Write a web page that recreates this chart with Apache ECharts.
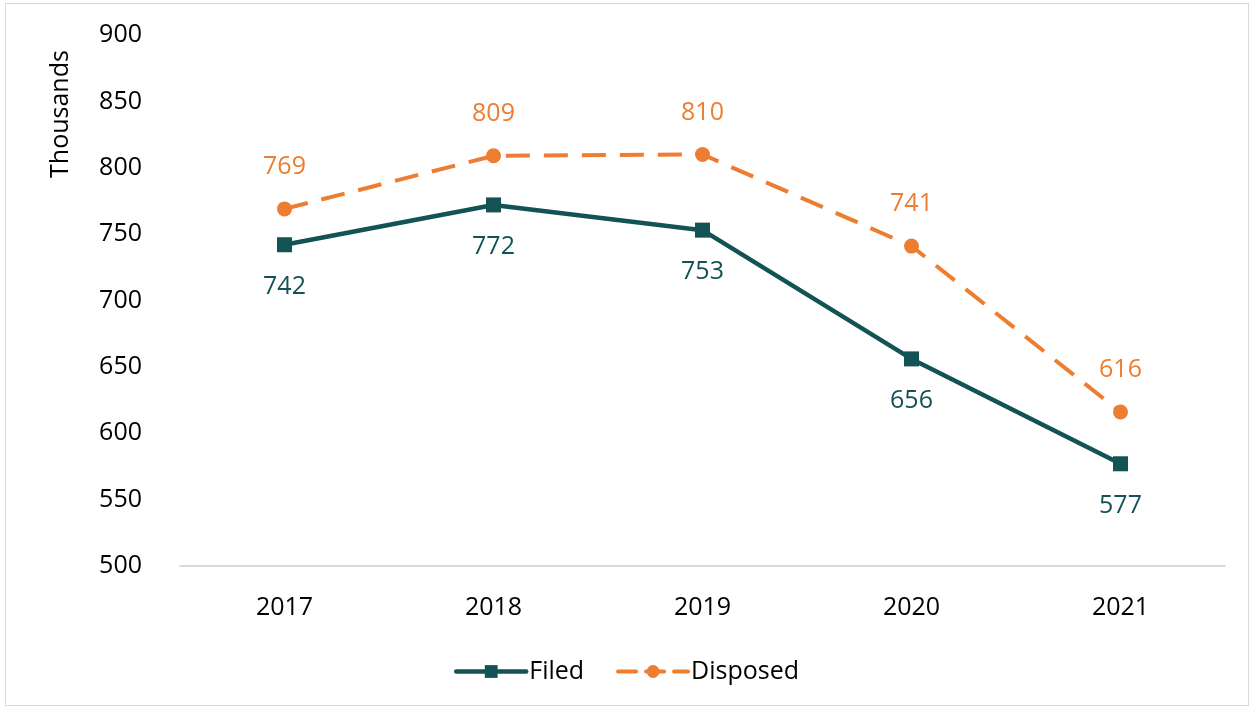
<!DOCTYPE html>
<html><head><meta charset="utf-8">
<script src="https://cdn.jsdelivr.net/npm/echarts@6/dist/echarts.min.js"></script>
<style>
html,body{margin:0;padding:0;background:#fff;}
#frame{position:absolute;left:5px;top:3px;width:1244px;height:703px;border:1px solid #d9d9d9;box-sizing:border-box;}
#c{position:absolute;left:0;top:0;width:1253px;height:711px;}
</style></head>
<body><div id="frame"></div><div id="c"></div>
<script>
const years = ['2017','2018','2019','2020','2021'];
const filed = [742, 772, 753, 656, 577];
const disposed = [769, 809, 810, 741, 616];
const yTicks = {min: 500, max: 900, step: 50};
const teal = '#135355';
const orange = '#ED7D31';
const font = 'Open Sans';
const fs = 25;
const chart = echarts.init(document.getElementById('c'));
chart.setOption({
  animation: false,
  textStyle: {fontFamily: font},
  grid: {left: 180, right: 28, top: 35, bottom: 145, containLabel: false},
  graphic: [{type: 'text', rotation: Math.PI/2, x: 61, y: 114,
    style: {text: 'Thousands', font: '25px "Open Sans"', fill: '#000', textAlign: 'center', textVerticalAlign: 'middle'}}],
  legend: {bottom: 22, left: 'center', itemWidth: 70, itemHeight: 16, itemGap: 32,
    textStyle: {fontSize: fs, color: '#000', fontFamily: font, padding: [0,0,0,-2]},
    data: [
      {name: 'Filed', lineStyle: {width: 4.5, color: teal, cap: 'round'}},
      {name: 'Disposed', lineStyle: {width: 4, color: orange, type: [18, 10], cap: 'round'}}
    ]},
  xAxis: {type: 'category', data: years, boundaryGap: true,
    axisLine: {lineStyle: {color: '#d9d9d9', width: 2}}, axisTick: {show: false},
    axisLabel: {color: '#000', fontSize: fs, margin: 29, fontFamily: font}},
  yAxis: {type: 'value', min: yTicks.min, max: yTicks.max, interval: yTicks.step,
    splitLine: {show: false}, axisLine: {show: false}, axisTick: {show: false},
    axisLabel: {color: '#000', fontSize: fs, margin: 38, fontFamily: font}},
  series: [
    {name: 'Filed', type: 'line', data: filed, symbol: 'rect', symbolSize: 15,
      lineStyle: {color: teal, width: 4.5}, itemStyle: {color: teal},
      label: {show: true, position: 'bottom', distance: 22, color: teal, fontSize: fs, fontFamily: font}},
    {name: 'Disposed', type: 'line', data: disposed, symbol: 'circle', symbolSize: 15,
      lineStyle: {color: orange, width: 4, type: [24, 14]}, itemStyle: {color: orange},
      label: {show: true, position: 'top', distance: 22, color: orange, fontSize: fs, fontFamily: font}}
  ]
});
</script></body></html>
